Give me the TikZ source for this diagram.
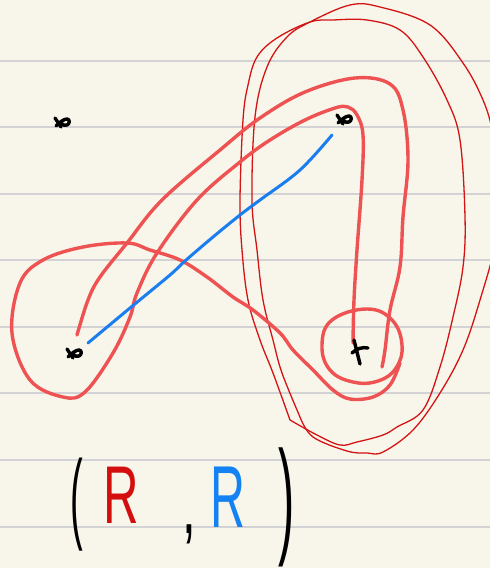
\documentclass[tikz,border=0pt]{standalone}
\usepackage{fontspec}
\setmainfont{Liberation Sans}
\definecolor{paper}{HTML}{F8F6EA}
\definecolor{rule}{HTML}{D3D3D6}
\definecolor{thickred}{HTML}{EE5252}
\definecolor{thinred}{HTML}{D41414}
\definecolor{penblue}{HTML}{1A7DF0}
\definecolor{txtred}{HTML}{D40E0E}
\definecolor{txtblue}{HTML}{1482F2}
\tikzset{
  ruleline/.style={rule, line width=1.4pt},
  thickstroke/.style={thickred, line width=3.4pt, line cap=round, line join=round},
  thinstroke/.style={thinred, line width=1.3pt, line cap=round, line join=round},
  bluestroke/.style={penblue, line width=3pt, line cap=round},
  markstyle/.style={black, line width=3.4pt, line cap=round, line join=round},
  handtext/.style={inner sep=0pt, anchor=base}
}
\newcommand\hmark[1]{\draw[markstyle,shift={#1}] (-7,-5) -- (-1,4) (-6,3) .. controls (-2,-1) and (2,-4) .. (5,-4) .. controls (8,-4) and (8,1) .. (5,2) .. controls (3,3) and (1,2) .. (0,1);}
\begin{document}
\begin{tikzpicture}[x=1pt,y=-1pt]
\useasboundingbox (0,0) rectangle (490,568);
\clip (0,0) rectangle (490,568);
\fill[paper] (0,0) rectangle (490,568);
% ruled lines
\foreach \yy in {61,127,194,260,327,393,460,527}
  \draw[ruleline] (0,\yy) -- (490,\yy);
% thin red loops
\draw[thinstroke] plot[smooth, tension=0.6] coordinates {(290,420) (273,373) (260,340) (248,300) (242,250) (240,200) (243,120) (248,85) (257,57) (277,38) (310,22) (333,20) (367,20) (400,30) (423,57) (447,100) (460,140) (465,217) (463,267) (453,317) (440,367) (423,410) (397,427) (383,435) (357,442) (340,445) (317,435) (290,420)};
\draw[thinstroke] plot[smooth, tension=0.6] coordinates {(300,417) (282,373) (273,340) (263,300) (257,250) (252,200) (255,117) (267,67) (287,37) (310,22) (350,5) (380,7) (430,25) (463,63) (483,100) (493,133) (501,180) (496,240) (480,300) (463,350) (440,393) (413,430) (383,452) (367,453) (347,451) (313,437) (300,417)};
% thick red tube
\draw[thickstroke] plot[smooth, tension=0.6] coordinates {(77,335) (88,300) (100,277) (127,243) (162,200) (220,150) (260,118) (305,92) (355,78) (390,84) (403,110) (408,160) (403,217) (400,267) (390,310) (385,350) (382,367)};
\draw[thickstroke] plot[smooth, tension=0.6] coordinates {(353,343) (354,300) (357,250) (362,180) (363,135) (357,115) (348,107) (335,108) (305,120) (270,140) (240,162) (197,200) (157,253) (137,293) (130,317) (113,353) (85,392) (63,397) (30,380) (12,333) (20,283) (43,260) (83,247) (127,243) (150,250) (180,260) (207,277) (233,297) (253,310) (280,333) (293,350) (313,370) (333,390) (350,399) (373,397) (390,385) (400,363)};
\draw[thickstroke] plot[smooth cycle, tension=0.7] coordinates {(367,309) (392,320) (402,345) (396,368) (378,381) (353,382) (330,370) (322,345) (332,320)};
% blue path
\draw[bluestroke] plot[smooth, tension=0.6] coordinates {(88,343) (130,308) (170,275) (185,261) (213,237) (240,215) (260,200) (300,170) (332,135)};
% marks
\hmark{(62,123)}
\hmark{(344,120)}
\hmark{(74,354)}
\draw[markstyle] (354,340) -- (360,364) (352,353) .. controls (357,348) and (363,347) .. (368,348);
% formula
\node[handtext, xscale=0.38] (lp) at (77,530) {\fontsize{100}{100}\selectfont (};
\node[handtext, txtred, xscale=0.6] (r1) at (121,523) {\fontsize{82}{82}\selectfont R};
\node[handtext, xscale=0.6] (cm) at (189,533) {\fontsize{82}{82}\selectfont ,};
\node[handtext, txtblue, xscale=0.55] (r2) at (228,527) {\fontsize{88}{88}\selectfont R};
\node[handtext, xscale=0.38] (rp) at (287,540) {\fontsize{128}{128}\selectfont )};
\end{tikzpicture}
\end{document}
